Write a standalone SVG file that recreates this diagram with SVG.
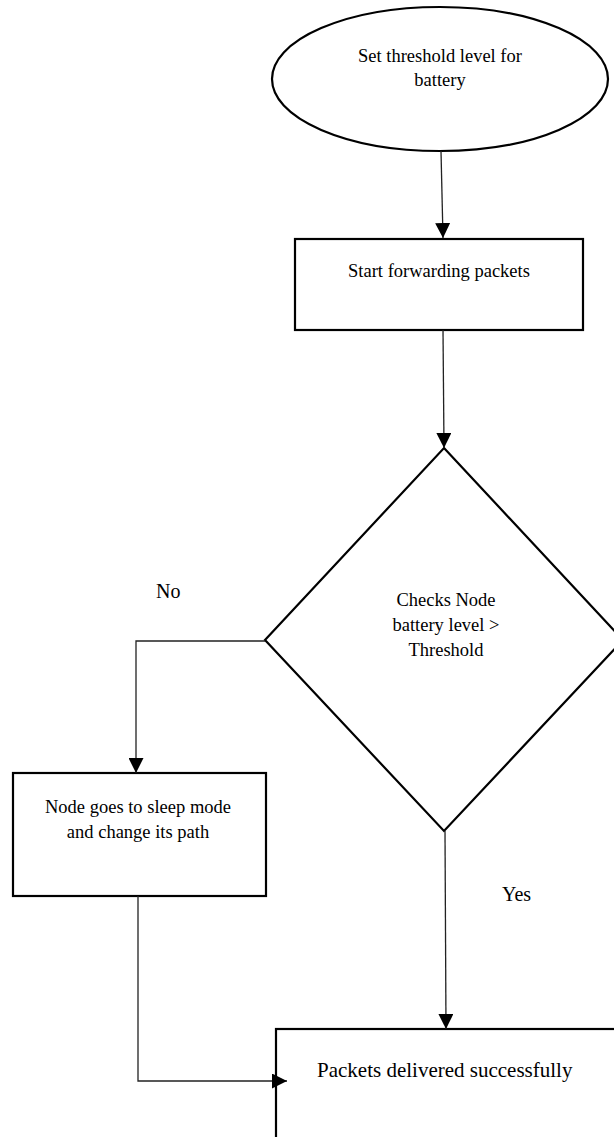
<svg xmlns="http://www.w3.org/2000/svg" width="614" height="1137" viewBox="0 0 614 1137">
<style>
.shape{fill:#fff;stroke:#000;stroke-width:2.2}
.conn{fill:none;stroke:#222;stroke-width:1.3}
.t{font-family:"Liberation Serif","Times New Roman",serif;font-size:18.5px;fill:#000;text-anchor:middle}
.lbl{font-family:"Liberation Serif","Times New Roman",serif;font-size:20px;fill:#000}
</style>
<defs>
<marker id="ah" markerWidth="15" markerHeight="15" refX="15" refY="7.5" orient="auto" markerUnits="userSpaceOnUse">
<path d="M0,0 L15,7.5 L0,15 Z" fill="#000"/>
</marker>
</defs>
<rect width="614" height="1137" fill="#fff"/>
<g id="n1">
<ellipse class="shape" cx="440" cy="79" rx="168" ry="72"/>
<text class="t" x="440" y="62">Set threshold level for</text>
<text class="t" x="440" y="86">battery</text>
</g>
<g id="n2">
<rect class="shape" x="295" y="239" width="288" height="91"/>
<text class="t" x="439" y="277">Start forwarding packets</text>
</g>
<g id="n3">
<polygon class="shape" points="444,448 623,640 444,831 265,640"/>
<text class="t" x="446" y="606">Checks Node</text>
<text class="t" x="446" y="631">battery level &gt;</text>
<text class="t" x="446" y="656">Threshold</text>
</g>
<g id="n4">
<rect class="shape" x="13" y="773" width="253" height="123"/>
<text class="t" x="138" y="813">Node goes to sleep mode</text>
<text class="t" x="138" y="838">and change its path</text>
</g>
<g id="n5">
<rect class="shape" x="276" y="1029" width="360" height="130"/>
<text class="lbl" x="317" y="1077" style="font-size:21px">Packets delivered successfully</text>
</g>
<g id="connectors">
<path class="conn" d="M441,151 L443,238" marker-end="url(#ah)"/>
<path class="conn" d="M443,330 L444,448" marker-end="url(#ah)"/>
<path class="conn" d="M265,641 L136,641 L136,773" marker-end="url(#ah)"/>
<path class="conn" d="M445,831 L446,1029" marker-end="url(#ah)"/>
<path class="conn" d="M138,896 L138,1081 L287,1081" marker-end="url(#ah)"/>
<text class="lbl" x="156" y="598">No</text>
<text class="lbl" x="502" y="901">Yes</text>
</g>
</svg>
